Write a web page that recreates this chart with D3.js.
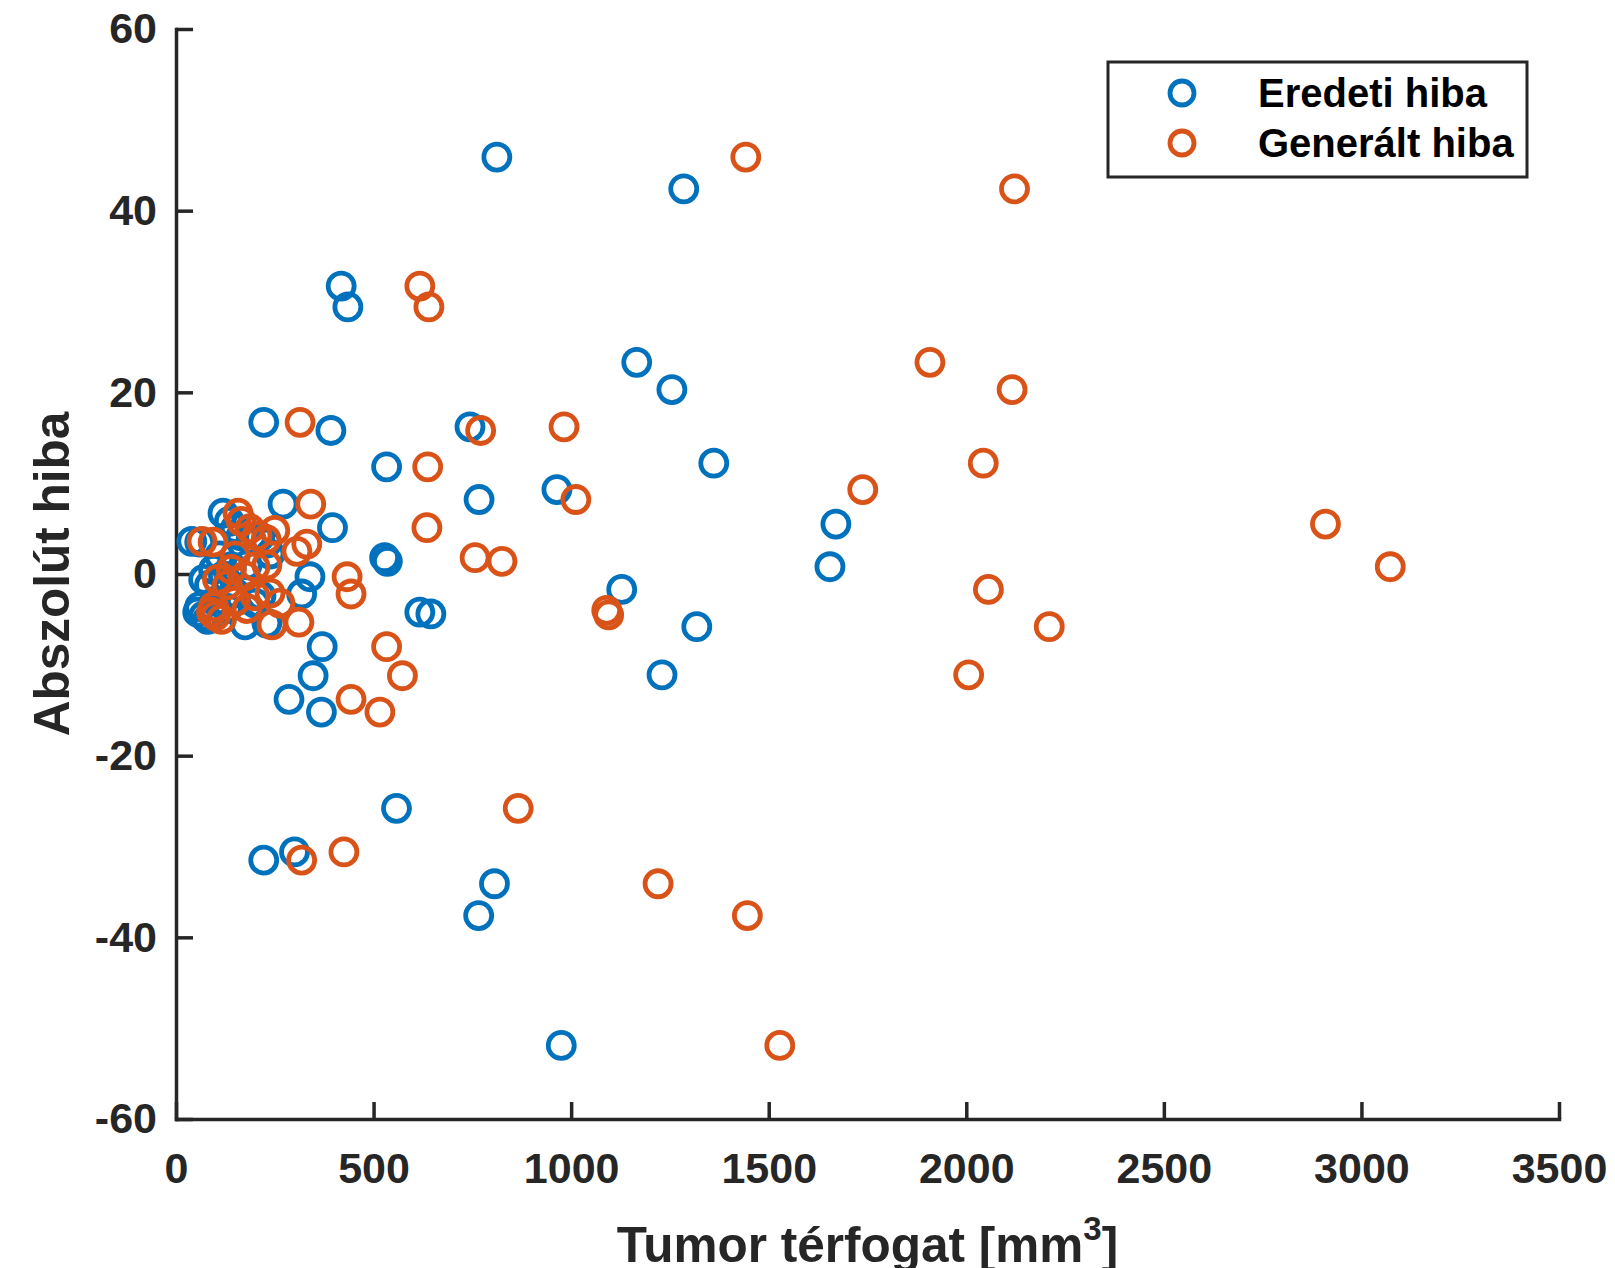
<!DOCTYPE html>
<html>
<head>
    <meta charset="UTF-8">
    <style>
        body { margin: 0; background: #fff; }
        text { font-family: "Liberation Sans", Arial, sans-serif; font-weight: bold; fill: #262626; }
        .axis path, .axis line { stroke: #262626; stroke-width: 3.5px; }
        .axis text { font-size: 43px; fill: #262626; }
        .marker { fill: none; stroke-width: 4.8px; }
    </style>
</head>
<body>
<script src="https://d3js.org/d3.v7.min.js"></script>
<script>
// Eredeti hiba (tumor volume [mm3], absolute error)
var eredetiX = [812, 1285, 418, 435, 1166, 1255, 222, 744, 392, 1361, 533, 964, 767, 271, 1670, 396,
    1655, 528, 535, 1128, 617, 645, 1318, 370, 347, 1230, 286, 368, 558, 300, 222, 806, 766, 975, 339, 318,
    40, 60, 119, 135, 150, 165, 190, 212, 230, 238, 110, 95, 70, 85, 120, 150, 60, 55, 70, 80, 100, 130,
    175, 200, 215, 230, 180, 140];
var eredetiY = [45.9, 42.4, 31.7, 29.4, 23.3, 20.3, 16.7, 16.2, 15.8, 12.2, 11.8, 9.3, 8.2, 7.7, 5.5, 5.1,
    0.8, 1.8, 1.4, -1.7, -4.2, -4.4, -5.8, -8.0, -11.2, -11.1, -13.8, -15.2, -25.8, -30.6, -31.5, -34.1, -37.6, -51.9, -0.3, -2.2,
    3.6, 3.5, 6.7, 5.8, 5.0, 4.2, 3.8, 4.1, 3.4, 2.2, 2.0, 0.5, -0.6, -1.2, -0.2, -2.1, -3.6, -4.2, -4.6, -5.0, -3.0, -3.8,
    -5.6, -3.2, -2.4, -5.4, 1.0, 0.8];

// Generalt hiba
var generaltX = [1442, 2122, 617, 640, 1908, 2116, 314, 982, 771, 2043, 637, 1738, 1012, 341, 2909, 635,
    3073, 757, 825, 2056, 1090, 1095, 2210, 533, 573, 2006, 443, 516, 866, 425, 318, 1220, 1446, 1528, 433, 443,
    66, 94, 157, 165, 187, 205, 228, 250, 331, 306, 150, 140, 105, 130, 175, 238, 95, 90, 100, 115, 150, 180,
    243, 263, 200, 311, 230, 200];
var generaltY = [45.9, 42.4, 31.7, 29.4, 23.3, 20.3, 16.7, 16.2, 15.8, 12.2, 11.8, 9.3, 8.2, 7.7, 5.5, 5.1,
    0.8, 1.8, 1.4, -1.7, -4.0, -4.5, -5.8, -8.0, -11.2, -11.1, -13.8, -15.2, -25.8, -30.6, -31.5, -34.1, -37.6, -51.9, -0.3, -2.2,
    3.6, 3.5, 6.7, 5.8, 5.0, 4.2, 3.8, 4.8, 3.3, 2.5, 2.0, 0.5, -0.6, -1.2, -0.2, -2.1, -3.6, -4.2, -4.6, -5.0, -3.0, -3.8,
    -5.6, -3.2, -2.4, -5.3, 1.0, 0.8];

var xTicks = [0, 500, 1000, 1500, 2000, 2500, 3000, 3500];
var yTicks = [-60, -40, -20, 0, 20, 40, 60];
var seriesNames = ["Eredeti hiba", "Generált hiba"];
var seriesColors = ["#0072BD", "#D95319"];

var width = 1615, height = 1268;
var plotLeft = 176, plotRight = 1559, plotTop = 29, plotBottom = 1119;

var svg = d3.select("body").append("svg").attr("width", width).attr("height", height);

var x = d3.scaleLinear().domain([0, 3500]).range([plotLeft, plotRight]);
var y = d3.scaleLinear().domain([-60, 60]).range([plotBottom, plotTop]);

// plain hyphen minus like the original
var fmt = function(d) { return String(d); };

svg.append("g")
    .attr("class", "axis")
    .attr("transform", "translate(0," + plotBottom + ")")
    .call(d3.axisBottom(x).tickValues(xTicks).tickFormat(fmt).tickSize(-17).tickSizeOuter(0).tickPadding(33));

svg.append("g")
    .attr("class", "axis")
    .attr("transform", "translate(" + plotLeft + ",0)")
    .call(d3.axisLeft(y).tickValues(yTicks).tickFormat(fmt).tickSize(-17).tickSizeOuter(0).tickPadding(19));

svg.selectAll(".axis .domain").attr("stroke-linecap", "square");

// points
function drawSeries(xs, ys, color) {
    var pts = xs.map(function(d, i) { return [d, ys[i]]; });
    svg.append("g").selectAll("circle")
        .data(pts)
        .enter().append("circle")
        .attr("class", "marker")
        .attr("cx", function(d) { return x(d[0]); })
        .attr("cy", function(d) { return y(d[1]); })
        .attr("r", 13)
        .attr("stroke", color);
}
drawSeries(eredetiX, eredetiY, seriesColors[0]);
drawSeries(generaltX, generaltY, seriesColors[1]);

// axis titles
svg.append("text")
    .attr("transform", "translate(69," + ((plotTop + plotBottom) / 2) + ") rotate(-90)")
    .attr("text-anchor", "middle")
    .style("font-size", "49.5px")
    .text("Abszolút hiba");

var xt = svg.append("text")
    .attr("x", (plotLeft + plotRight) / 2)
    .attr("y", 1262)
    .attr("text-anchor", "middle")
    .style("font-size", "49.5px");
xt.append("tspan").text("Tumor térfogat [mm");
xt.append("tspan").attr("dy", -22).style("font-size", "33px").text("3");
xt.append("tspan").attr("dy", 22).text("]");

// legend
var lg = svg.append("g");
lg.append("rect")
    .attr("x", 1108).attr("y", 62).attr("width", 419).attr("height", 115)
    .attr("fill", "#fff").attr("stroke", "#262626").attr("stroke-width", 3);
seriesNames.forEach(function(name, i) {
    lg.append("circle")
        .attr("class", "marker")
        .attr("cx", 1182).attr("cy", 93 + i * 50)
        .attr("r", 12)
        .attr("stroke", seriesColors[i])
        .attr("stroke-width", 4.4);
    lg.append("text")
        .attr("x", 1258).attr("y", 107 + i * 50)
        .style("font-size", "40px")
        .style("fill", "#000")
        .text(name);
});
</script>
</body>
</html>
